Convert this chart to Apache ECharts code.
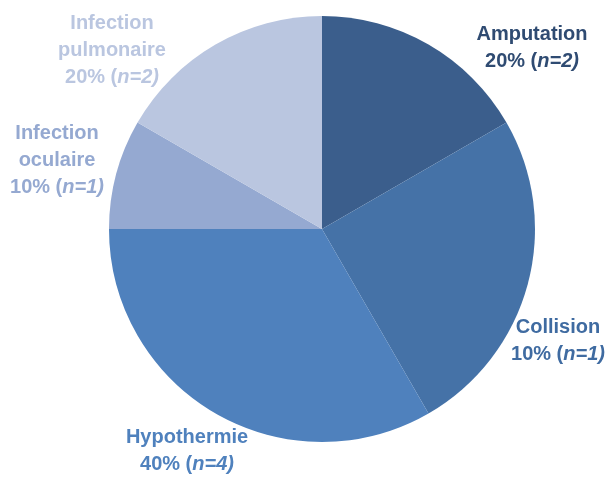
<!DOCTYPE html>
<html><head><meta charset="utf-8">
<script src="https://cdn.jsdelivr.net/npm/echarts@6/dist/echarts.min.js"></script>
<style>html,body{margin:0;padding:0;background:#fff}#c{width:607px;height:477px}</style>
</head><body><div id="c"></div>
<script>
var categories = ['Amputation', 'Collision', 'Hypothermie', 'Infection\noculaire', 'Infection\npulmonaire'];
var sliceValues = [2, 3, 4, 1, 2];
var percentLabels = ['20%', '10%', '40%', '10%', '20%'];
var nLabels = [2, 1, 4, 1, 2];
var sliceColors = ['#3b5e8c', '#4572a7', '#4f81bd', '#95a9d1', '#bac6e0'];
var textColors = ['#2f4b72', '#3f6ba1', '#4f81bd', '#95a9d1', '#bac6e0'];
var labelPos = [[532, 48], [558, 341], [187, 451], [57, 160], [112, 50]];

var data = categories.map(function (c, i) {
  return {
    name: c,
    value: sliceValues[i],
    itemStyle: { color: sliceColors[i] },
    label: {
      color: textColors[i],
      formatter: c + '\n' + percentLabels[i] + ' ({i|n=' + nLabels[i] + ')}',
      rich: { i: { fontStyle: 'italic', fontWeight: 'bold', fontSize: 20, fontFamily: 'Liberation Sans', color: textColors[i] } }
    }
  };
});

var chart = echarts.init(document.getElementById('c'));
chart.setOption({
  animation: false,
  series: [{
    type: 'pie',
    center: [322, 229],
    radius: 213,
    startAngle: 90,
    clockwise: true,
    data: data,
    label: {
      show: true,
      position: 'outside',
      fontSize: 20,
      fontWeight: 'bold',
      fontFamily: 'Liberation Sans',
      lineHeight: 27,
      align: 'center',
      overflow: 'none'
    },
    labelLine: { show: false },
    labelLayout: function (p) {
      return { x: labelPos[p.dataIndex][0], y: labelPos[p.dataIndex][1], align: 'center', verticalAlign: 'middle', hideOverlap: false, moveOverlap: false };
    },
    emphasis: { disabled: true }
  }]
});
</script></body></html>
